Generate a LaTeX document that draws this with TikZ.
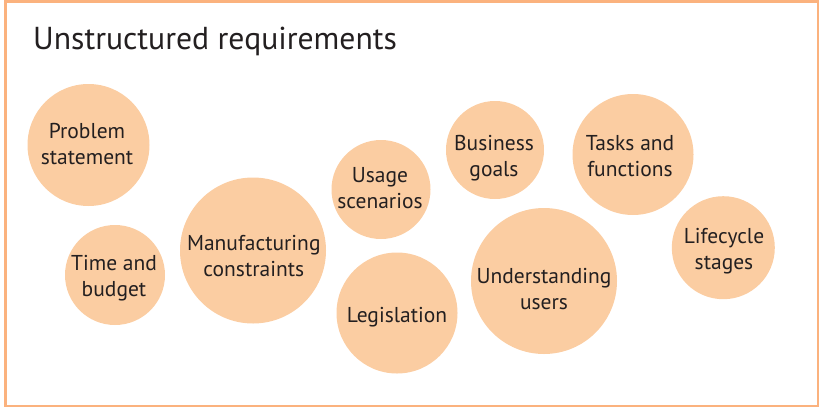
\documentclass[tikz,border=0pt]{standalone}
\usepackage{fontspec}
\setmainfont{PT Sans}
\definecolor{peach}{HTML}{FBCDA2}
\definecolor{framec}{HTML}{FBB27E}
\definecolor{txt}{HTML}{231F20}
\begin{document}
\begin{tikzpicture}[x=1pt,y=-1pt,
  bubble/.style={circle,fill=peach,draw=none,inner sep=0pt,minimum size=#1},
  btext/.style={anchor=base,align=center,text=txt,inner sep=0pt,font=\fontsize{21.5}{26}\selectfont}]
\useasboundingbox (0,0) rectangle (821,407);
\draw[framec,line width=2.4pt] (5.5,1.3) rectangle (817.8,405.8);
\node[anchor=base west,inner sep=0pt,text=txt,font=\fontsize{31.7}{36}\selectfont] (title) at (33,49) {Unstructured requirements};
% circles
\node[bubble=122pt] (ps) at (88.5,145) {};
\node[bubble=100pt] (tb) at (115,275) {};
\node[bubble=146pt] (mc) at (253,250.5) {};
\node[bubble=99pt] (us) at (381,189.5) {};
\node[bubble=121pt] (lg) at (397,313) {};
\node[bubble=98pt] (bg) at (495,150) {};
\node[bubble=146pt] (uu) at (544,281) {};
\node[bubble=121pt] (tf) at (633,154.5) {};
\node[bubble=103pt] (lc) at (723.3,247.7) {};
% labels (base = baseline of last line)
\node[btext] (psl) at (87,164) {Problem\\statement};
\node[btext] (tbl) at (114,296.7) {Time and\\budget};
\node[btext] (mcl) at (253.8,276.7) {Manufacturing\\constraints};
\node[btext] (usl) at (380,208.5) {Usage\\scenarios};
\node[btext] (lgl) at (397,322.7) {Legislation};
\node[btext] (bgl) at (494,176) {Business\\goals};
\node[btext] (uul) at (544,309) {Understanding\\users};
\node[btext] (tfl) at (630,176) {Tasks and\\functions};
\node[btext] (lcl) at (724,269.3) {Lifecycle\\stages};
\end{tikzpicture}
\end{document}
